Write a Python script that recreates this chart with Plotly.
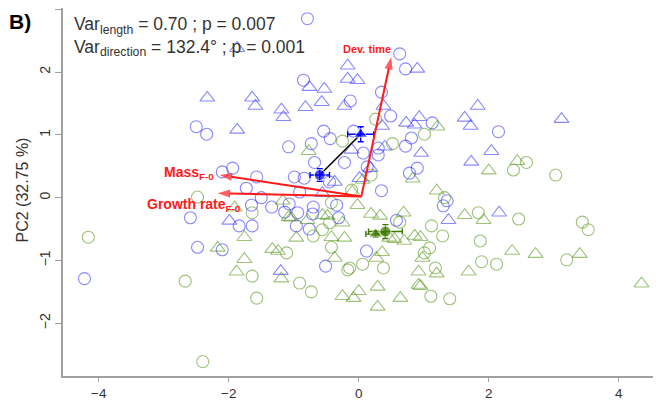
import plotly.graph_objects as go

# ---- data (PC1, PC2 scores) ----
blue_circ_x = [-0.79, -0.85, 0.63, 0.72, 0.35, -0.13, 0.49, 1.13, 2.15, -2.50, -2.34, -0.54, -1.08, -0.73,
               -0.08, -0.44, -0.68, -1.94, -2.10, -1.57, -0.99, -0.84, -1.73, -0.91, 0.81, 0.72, 0.30, 0.07,
               0.30, -0.22, 0.13, 0.90, 0.78, -0.45, 0.35, 1.36, 1.30, 0.58, -0.34, -0.31, 0.12, -2.59,
               -1.65, -1.84, -1.64, -2.48, -2.10, -4.22, -0.51, -1.50, -1.34, -1.07, -1.14, -0.94, -0.96,
               -0.70, -0.71, -0.76]
blue_circ_y = [2.85, 1.87, 2.29, 2.05, 1.68, 1.54, 1.30, 1.19, 1.05, 1.13, 1.01, 1.06, 0.81, 0.86,
               1.06, 0.94, 0.56, 0.47, 0.41, 0.33, 0.33, 0.31, 0.15, 0.09, 0.95, 0.82, 0.79, 0.71,
               0.68, 0.56, 0.49, 0.47, 0.39, 0.25, 0.11, -0.05, -0.13, -0.36, -0.12, -0.32, -0.85, -0.32,
               -0.12, -0.45, -0.45, -0.79, -0.83, -1.29, -1.09, 0.00, -0.15, -0.10, -0.23, -0.24, -0.45,
               -0.15, -0.26, -0.50]

blue_tri_x = [-1.87, -0.76, -0.53, -2.33, -1.64, -1.59, -1.19, -1.16, -0.82, -0.57, -1.87, -0.17, 0.90,
              -0.17, -0.02, -0.22, 0.38, 0.36, 0.73, 0.93, 0.86, 1.83, 1.63, 1.72, 3.12, 0.40, -0.11,
              0.96, 2.04, 1.73, 0.18, -0.37, 2.16, 1.38, -1.99, -1.20, 0.01, -0.56]
blue_tri_y = [2.38, 1.76, 1.73, 1.59, 1.59, 1.46, 1.40, 1.28, 1.44, 1.52, 1.08, 2.10, 2.05,
              1.89, 1.87, 1.46, 1.46, 1.14, 1.19, 1.28, 1.16, 1.46, 1.27, 1.14, 1.25, 0.81, 0.76,
              0.71, 0.74, 0.57, 0.47, 0.25, -0.24, -0.36, -0.37, -1.17, 0.31, 0.07]

green_circ_x = [-2.48, 0.26, 1.01, -0.25, 0.52, 2.58, 2.38, 3.03, 0.19, -0.11, 1.32, 1.84, 2.46, 3.44,
                3.53, 1.87, 3.20, 1.89, 2.12, 1.12, 1.29, -0.42, 1.09, 1.01, 0.06, 0.38, -0.17, -0.14,
                1.18, 1.11, 1.40, 0.63, -0.45, -0.42, -0.56, -0.70, -1.11, -0.91, -0.73, -1.64,
                -4.16, -1.64, -2.67, -1.57, -2.40]
green_circ_y = [0.01, 1.25, 1.01, 0.90, 0.86, 0.56, 0.44, 0.36, 0.36, 0.12, 0.00, -0.24, -0.34, -0.39,
                -0.51, -0.69, -0.99, -1.02, -1.06, -0.45, -0.61, -0.79, -0.80, -0.88, -1.06, -1.12, -1.15, -1.12,
                -1.12, -1.57, -1.61, -0.39, -0.40, -0.08, -0.51, -0.61, -0.88, -1.36, -1.50, -0.24,
                -0.63, -1.25, -1.33, -1.60, -2.61]

green_tri_x = [-0.77, 1.21, 2.44, 2.00, 0.83, 0.06, 1.20, -0.02, -0.25, 0.19, 0.33, 0.69, 1.63, 1.92,
               -0.42, -0.22, 0.86, 0.95, 0.47, 0.55, 0.70, 0.36, 2.36, 2.72, 3.40, -0.37, 0.27, 0.98,
               1.20, 0.92, 1.69, 0.29, 0.92, 0.95, -0.25, 0.00, -0.08, 0.64, 0.29, 4.35, -1.17, -1.08,
               -1.04, -0.79, -0.56, -0.48, -0.96, -1.33, -1.24, -1.19, -1.91, -1.76, -2.17, -1.76, -1.88,
               -0.10]
green_tri_y = [0.74, 1.13, 0.58, 0.43, 0.30, 0.28, 0.11, -0.12, -0.40, -0.26, -0.29, -0.24, -0.28, -0.36,
               -0.63, -0.64, -0.61, -0.63, -0.64, -0.66, -0.69, -0.87, -0.85, -0.90, -0.90, -0.96, -0.96, -0.96,
               -1.21, -1.18, -1.18, -1.42, -1.39, -1.41, -1.57, -1.49, -1.60, -1.60, -1.74, -1.37, -0.05, -0.31,
               -0.32, -0.36, -0.28, -0.29, -0.64, -0.82, -0.85, -1.29, -0.16, -0.63, -0.80, -0.98, -1.18,
               0.09]

# group means (x, y, se_x, se_y)
blue_mean_x = [-0.60, 0.03]
blue_mean_y = [0.36, 1.01]
blue_mean_ex = [0.15, 0.20]
blue_mean_ey = [0.10, 0.12]
green_mean_x = [0.41, 0.26]
green_mean_y = [-0.54, -0.58]
green_mean_ex = [0.26, 0.15]
green_mean_ey = [0.11, 0.05]

# loading vectors
arrow_origin = [0.04, 0.02]
arrow_names = ["Dev. time", "Mass<sub>F-0</sub>", "Growth rate<sub>F-0</sub>"]
arrow_tip_x = [0.50, -2.14, -2.17]
arrow_tip_y = [2.24, 0.36, 0.07]

BLUE_PT = "rgba(40,40,255,0.55)"
GREEN_PT = "rgba(69,139,0,0.52)"
BLUE = "#0000ff"
GREEN = "#3c7a00"
RED = "#ff1a1a"
FONT = "Liberation Sans, Arial, sans-serif"

fig = go.Figure()


def pts(x, y, sym, col, size):
    fig.add_trace(go.Scatter(x=x, y=y, mode="markers",
                             marker=dict(symbol=sym, size=size, color=col,
                                         line=dict(color=col, width=1.1)),
                             hoverinfo="skip", showlegend=False))


pts(blue_circ_x, blue_circ_y, "circle-open", BLUE_PT, 12)
pts(blue_tri_x, blue_tri_y, "triangle-up-open", BLUE_PT, 13)
pts(green_circ_x, green_circ_y, "circle-open", GREEN_PT, 12)
pts(green_tri_x, green_tri_y, "triangle-up-open", GREEN_PT, 13)

# connecting lines between means
fig.add_trace(go.Scatter(x=blue_mean_x, y=blue_mean_y, mode="lines",
                         line=dict(color="black", width=1.6), showlegend=False, hoverinfo="skip"))
fig.add_trace(go.Scatter(x=green_mean_x, y=green_mean_y, mode="lines",
                         line=dict(color=GREEN, width=1.6), showlegend=False, hoverinfo="skip"))

# means with error bars
for mx, my, ex, ey, col in [(blue_mean_x, blue_mean_y, blue_mean_ex, blue_mean_ey, BLUE),
                            (green_mean_x, green_mean_y, green_mean_ex, green_mean_ey, GREEN)]:
    fig.add_trace(go.Scatter(
        x=mx, y=my, mode="markers",
        marker=dict(symbol=["circle", "triangle-up"], size=[11, 12], color=col),
        error_x=dict(type="data", array=ex, color=col, thickness=1.4, width=3),
        error_y=dict(type="data", array=ey, color=col, thickness=1.4, width=3),
        showlegend=False, hoverinfo="skip"))

# red loading arrows (line + rotated arrowhead marker)
for tx, ty in zip(arrow_tip_x, arrow_tip_y):
    fig.add_trace(go.Scatter(
        x=[arrow_origin[0], tx], y=[arrow_origin[1], ty], mode="lines+markers",
        line=dict(color=RED, width=2),
        marker=dict(symbol=["circle", "arrow"], size=[0, 13], color=RED,
                    angleref="previous", line=dict(width=0)),
        showlegend=False, hoverinfo="skip"))

fig.add_annotation(x=arrow_tip_x[0], y=arrow_tip_y[0], xref="x", yref="y",
                   text="<b>" + arrow_names[0] + "</b>", showarrow=False,
                   xanchor="right", yanchor="bottom", xshift=2, yshift=0,
                   font=dict(family=FONT, size=11, color=RED))
fig.add_annotation(x=arrow_tip_x[1], y=arrow_tip_y[1], xref="x", yref="y",
                   text="<b>" + arrow_names[1] + "</b>", showarrow=False,
                   xanchor="right", yanchor="middle", xshift=-4, yshift=2,
                   font=dict(family=FONT, size=14, color=RED))
fig.add_annotation(x=arrow_tip_x[2], y=arrow_tip_y[2], xref="x", yref="y",
                   text="<b>" + arrow_names[2] + "</b>", showarrow=False,
                   xanchor="center", yanchor="top", xshift=-24, yshift=-1,
                   font=dict(family=FONT, size=14, color=RED))

# statistics text
fig.add_annotation(xref="paper", yref="paper", x=0.015, y=0.988, xanchor="left", yanchor="top",
                   align="left", showarrow=False,
                   text="Var<sub>length</sub> = 0.70 ; p = 0.007<br>Var<sub>direction</sub> = 132.4° ; p = 0.001",
                   font=dict(family=FONT, size=17.5, color="#333333"))

# panel letter
fig.add_annotation(xref="paper", yref="paper", x=-0.094, y=1.0, xanchor="left", yanchor="top",
                   showarrow=False, text="<b>B)</b>",
                   font=dict(family=FONT, size=21, color="black"))

# y-axis title
fig.add_annotation(xref="paper", yref="paper", x=-0.068, y=0.505, xanchor="center", yanchor="middle",
                   showarrow=False, text="PC2 (32.75 %)", textangle=-90,
                   font=dict(family=FONT, size=16, color="#333333"))

fig.update_layout(
    width=653, height=392,
    margin=dict(l=55, r=0, t=0, b=24),
    plot_bgcolor="white", paper_bgcolor="white",
    font=dict(family=FONT, size=14, color="#333333"),
    xaxis=dict(range=[-4.55, 4.65], tickvals=[-4, -2, 0, 2, 4],
               ticktext=["\u22124", "\u22122", "0", "2", "4"], automargin=False,
               showgrid=False, zeroline=False, showline=True, mirror=True,
               linecolor="#a0a0a0", linewidth=1.5, ticks="outside", ticklen=4,
               tickcolor="#a0a0a0", tickfont=dict(size=13.5, color="#333333")),
    yaxis=dict(range=[-2.84, 3.02], tickvals=[-2, -1, 0, 1, 2, 3],
               ticktext=["\u22122", "\u22121", "0", "1", "2", "3"], automargin=False,
               showgrid=False, zeroline=False, showline=True, mirror=False,
               linecolor="#a0a0a0", linewidth=1.5, ticks="outside", ticklen=6,
               tickcolor="#a0a0a0", tickangle=-90, tickfont=dict(size=14, color="#333333")),
)

fig.write_html("out.html")
